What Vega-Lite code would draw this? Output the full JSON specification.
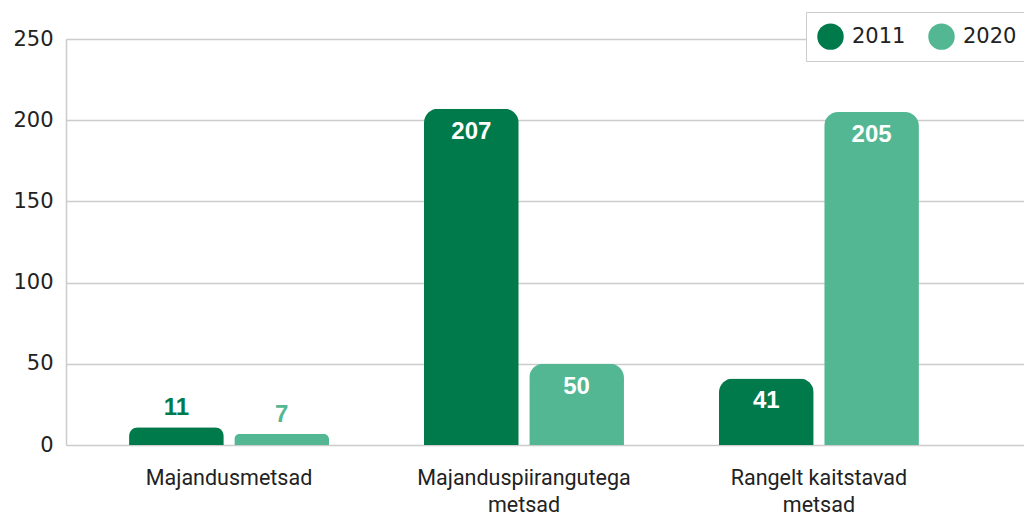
{
  "$schema": "https://vega.github.io/schema/vega-lite/v6.json",
  "width": 958,
  "height": 406,
  "autosize": {"type": "none"},
  "padding": {"left": 66, "top": 39, "right": 0, "bottom": 71},
  "background": "white",
  "config": {"view": {"stroke": null}, "font": "Liberation Sans"},
  "data": {
    "values": [
      {"category": "Majandusmetsad", "year": "2011", "value": 11},
      {"category": "Majandusmetsad", "year": "2020", "value": 7},
      {"category": "Majanduspiirangutega metsad", "year": "2011", "value": 207},
      {"category": "Majanduspiirangutega metsad", "year": "2020", "value": 50},
      {"category": "Rangelt kaitstavad metsad", "year": "2011", "value": 41},
      {"category": "Rangelt kaitstavad metsad", "year": "2020", "value": 205}
    ]
  },
  "encoding": {
    "x": {
      "field": "category",
      "type": "nominal",
      "sort": ["Majandusmetsad", "Majanduspiirangutega metsad", "Rangelt kaitstavad metsad"],
      "scale": {"paddingInner": 0.322, "paddingOuter": 0.285, "align": 0.375},
      "axis": {
        "title": null,
        "domain": false,
        "ticks": false,
        "labelAngle": 0,
        "labelPadding": 22,
        "labelFontSize": 21.5,
        "labelLimit": 400,
        "labelFont": "Roboto",
        "labelColor": "#222222",
        "labelLineHeight": 27,
        "labelExpr": "datum.label == 'Majanduspiirangutega metsad' ? ['Majanduspiirangutega', 'metsad'] : datum.label == 'Rangelt kaitstavad metsad' ? ['Rangelt kaitstavad', 'metsad'] : datum.label"
      }
    },
    "xOffset": {"field": "year", "type": "nominal", "scale": {"paddingInner": 0.1}},
    "y": {
      "field": "value",
      "type": "quantitative",
      "scale": {"domain": [0, 250]},
      "axis": {
        "title": null,
        "values": [0, 50, 100, 150, 200, 250],
        "ticks": false,
        "domainColor": "#cccccc",
        "domainWidth": 1.5,
        "gridColor": "#cccccc",
        "gridWidth": 1.5,
        "labelPadding": 13,
        "labelFontSize": 21,
        "labelFont": "DejaVu Sans",
        "labelColor": "#222222"
      }
    }
  },
  "layer": [
    {
      "mark": {"type": "bar", "cornerRadiusTopLeft": 14, "cornerRadiusTopRight": 14},
      "encoding": {
        "color": {
          "field": "year",
          "type": "nominal",
          "scale": {"domain": ["2011", "2020"], "range": ["#007A4B", "#52B792"]},
          "legend": {
            "orient": "none",
            "legendX": 740,
            "legendY": -27,
            "direction": "horizontal",
            "title": null,
            "symbolType": "circle",
            "symbolSize": 700,
            "symbolStrokeWidth": 0,
            "labelFontSize": 21,
            "labelFont": "DejaVu Sans",
            "labelColor": "#222222",
            "strokeColor": "#cccccc",
            "fillColor": "white",
            "padding": 11,
            "columnPadding": 22,
            "labelOffset": 8
          }
        }
      }
    },
    {
      "transform": [{"filter": "datum.value >= 30"}],
      "mark": {"type": "text", "dy": 23, "fontSize": 24, "fontWeight": "bold", "color": "white", "font": "Liberation Sans"},
      "encoding": {"text": {"field": "value", "type": "quantitative"}}
    },
    {
      "transform": [{"filter": "datum.value < 30"}],
      "mark": {"type": "text", "dy": -19, "fontSize": 24, "fontWeight": "bold", "font": "Liberation Sans"},
      "encoding": {
        "text": {"field": "value", "type": "quantitative"},
        "color": {"condition": {"test": "datum.year === '2011'", "value": "#007A4B"}, "value": "#52B792"}
      }
    }
  ]
}
